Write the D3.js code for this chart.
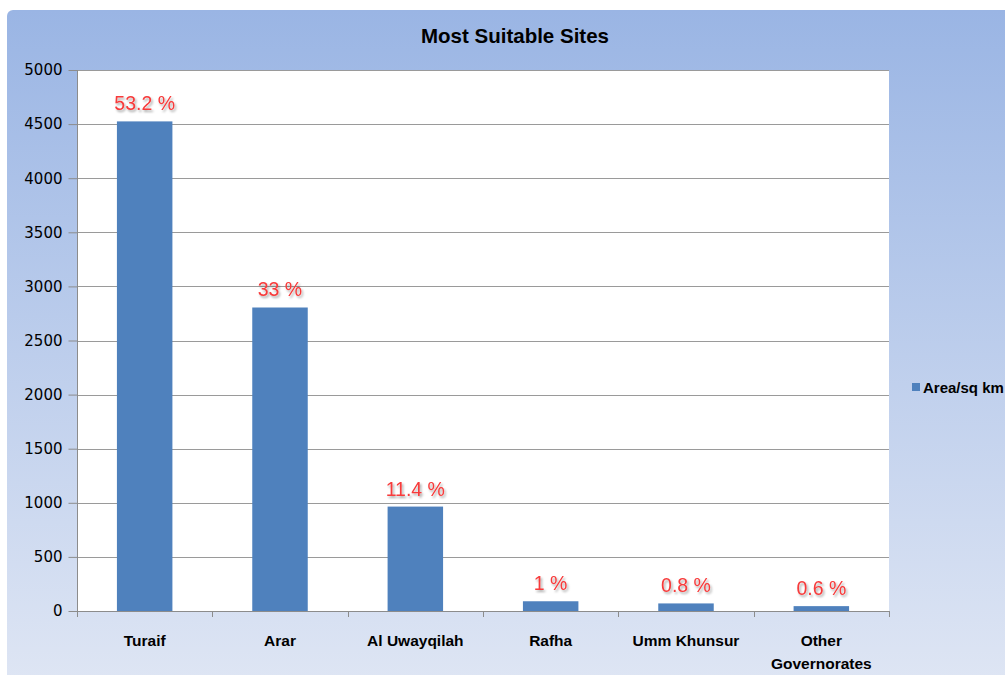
<!DOCTYPE html>
<html><head><meta charset="utf-8">
<script src="https://cdn.jsdelivr.net/npm/d3@7"></script>
<style>html,body{margin:0;padding:0;background:#fff;overflow:hidden}</style>
</head><body>
<svg id="c" width="1005" height="675"></svg>
<script>
const categories = ["Turaif", "Arar", "Al Uwayqilah", "Rafha", "Umm Khunsur", "Other Governorates"];
const areaValues = [4525, 2805, 965, 90, 70, 45];
const percentLabels = ["53.2 %", "33 %", "11.4 %", "1 %", "0.8 %", "0.6 %"];
const yTicks = [0, 500, 1000, 1500, 2000, 2500, 3000, 3500, 4000, 4500, 5000];
const seriesName = "Area/sq km";
const chartTitle = "Most Suitable Sites";

const svg = d3.select("#c");
const defs = svg.append("defs");
const g = defs.append("linearGradient").attr("id","bg").attr("x1",0).attr("y1",0).attr("x2",0).attr("y2",1);
g.append("stop").attr("offset","0%").attr("stop-color","#9ab5e4");
g.append("stop").attr("offset","100%").attr("stop-color","#dfe6f4");
const f = defs.append("filter").attr("id","sh").attr("x","-20%").attr("y","-20%").attr("width","140%").attr("height","160%");
f.append("feDropShadow").attr("dx",1.5).attr("dy",2).attr("stdDeviation",1.2).attr("flood-color","#000").attr("flood-opacity",0.35);

svg.append("rect").attr("x",7).attr("y",10).attr("width",1010).attr("height",680).attr("rx",6).attr("fill","url(#bg)");

const m = {l:77, r:889, t:70, b:611};
const x = d3.scaleBand().domain(categories).range([m.l, m.r]).paddingInner(0.59).paddingOuter(0.295);
const y = d3.scaleLinear().domain([0,5000]).range([m.b, m.t]);

svg.append("rect").attr("x",m.l).attr("y",m.t).attr("width",m.r-m.l).attr("height",m.b-m.t).attr("fill","#fff");

// gridlines
svg.append("g").selectAll("line").data(yTicks.filter(d=>d>0)).join("line")
  .attr("x1",m.l).attr("x2",m.r).attr("y1",d=>Math.round(y(d))+0.5).attr("y2",d=>Math.round(y(d))+0.5)
  .attr("stroke","#9a9a9a").attr("stroke-width",1);

// bars
svg.append("g").selectAll("rect").data(categories).join("rect")
  .attr("x",d=>x(d)).attr("width",x.bandwidth())
  .attr("y",(d,i)=>y(areaValues[i])).attr("height",(d,i)=>y(0)-y(areaValues[i]))
  .attr("fill","#4f81bd");

// y axis
const ya = svg.append("g").attr("transform",`translate(${m.l+0.5},0)`)
  .call(d3.axisLeft(y).tickValues(yTicks).tickSize(9).tickPadding(6).tickFormat(d3.format("d")));
ya.selectAll("path,line").attr("stroke","#8c8c8c");
ya.select(".domain").attr("d",`M0,${m.t}V${m.b}`);
ya.selectAll("text").attr("font-family","DejaVu Sans, sans-serif").attr("font-size","15px").attr("fill","#000");

// x axis
const bounds = d3.range(categories.length+1).map(i=>m.l+ i*(m.r-m.l)/categories.length);
svg.append("line").attr("x1",m.l).attr("x2",m.r+1).attr("y1",m.b+0.5).attr("y2",m.b+0.5).attr("stroke","#8c8c8c");
svg.append("g").selectAll("line").data(bounds).join("line")
  .attr("x1",d=>Math.round(d)+0.5).attr("x2",d=>Math.round(d)+0.5).attr("y1",m.b).attr("y2",m.b+6).attr("stroke","#8c8c8c");

const xl = svg.append("g").selectAll("text").data(categories).join("text")
  .attr("x",d=>x(d)+x.bandwidth()/2).attr("y",646)
  .attr("text-anchor","middle").attr("font-family","Liberation Sans, Arial, sans-serif")
  .attr("font-weight","bold").attr("font-size","15.5px").attr("fill","#000");
xl.each(function(d){
  const t = d3.select(this);
  if (d === "Other Governorates") {
    t.append("tspan").attr("x",x(d)+x.bandwidth()/2).attr("dy",0).text("Other");
    t.append("tspan").attr("x",x(d)+x.bandwidth()/2).attr("dy",23).text("Governorates");
  } else t.text(d);
});

// percent labels
svg.append("g").selectAll("text").data(categories).join("text")
  .attr("x",d=>x(d)+x.bandwidth()/2).attr("y",(d,i)=>y(areaValues[i])-11)
  .attr("text-anchor","middle").attr("font-family","Liberation Sans, Arial, sans-serif")
  .attr("font-size","19.5px").attr("fill","#f73a3a").attr("filter","url(#sh)")
  .text((d,i)=>percentLabels[i]);

// title
svg.append("text").attr("x",515).attr("y",43).attr("text-anchor","middle")
  .attr("font-family","Liberation Sans, Arial, sans-serif").attr("font-weight","bold").attr("font-size","20.5px")
  .attr("fill","#000").text(chartTitle);

// legend
svg.append("rect").attr("x",912).attr("y",383).attr("width",8).attr("height",8).attr("fill","#4f81bd");
svg.append("text").attr("x",923).attr("y",393).attr("font-family","Liberation Sans, Arial, sans-serif")
  .attr("font-weight","bold").attr("font-size","15px").attr("fill","#000").text(seriesName);
</script>
</body></html>
